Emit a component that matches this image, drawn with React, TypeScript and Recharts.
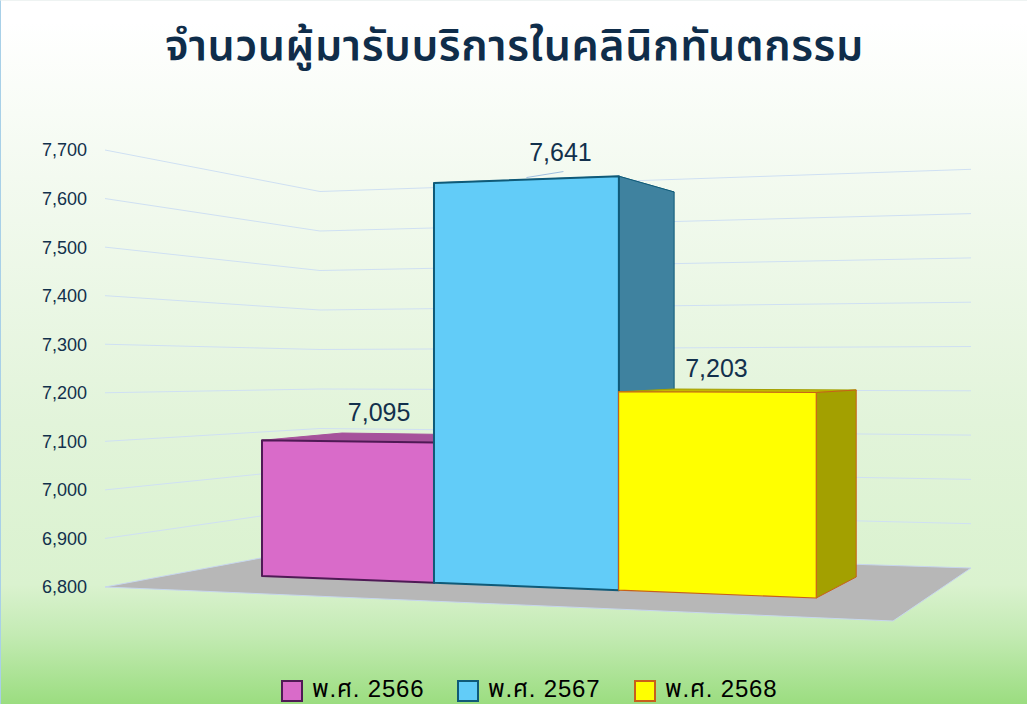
import React from 'react';
import { BarChart, Bar, XAxis, YAxis, CartesianGrid, LabelList, Legend } from 'recharts';

const TITLE = 'จำนวนผู้มารับบริการในคลินิกทันตกรรม';
const categories = ['พ.ศ. 2566', 'พ.ศ. 2567', 'พ.ศ. 2568'];
const values = [7095, 7641, 7203];
const yTicks = [6800, 6900, 7000, 7100, 7200, 7300, 7400, 7500, 7600, 7700];
const rows = categories.map((name, i) => ({ name, value: values[i] }));

const faces = [
  { front: '#d96bc9', side: '#a6529b', top: '#a6529b', line: '#4f1a55', weight: 2, dx: 31, dy: -27 },
  { front: '#62ccf8', side: '#3f829f', top: '#3f829f', line: '#0f5a78', weight: 2, dx: 34, dy: -25 },
  { front: '#ffff00', side: '#a3a000', top: '#c4b800', line: '#c8601a', weight: 1.1, dx: -1, dy: -22 },
];

const W = 1027, H = 704, L = 105, R = 971, T = 150, B = 587;
const LEGEND_H = 24;
const UNIT = (B - T) / 900;
const FONT = '"Liberation Sans","Noto Sans Thai","Noto Sans",Arial,sans-serif';
const NAVY = '#12304c';

const tOf = (px: number) => (px - L) / (R - L);
const frontX = (px: number) => { const t = tOf(px); return 262 + 554 * (0.897 * t + 0.103 * t * t); };
const backX = (px: number) => { const t = tOf(px); return 342 + 514 * (0.906 * t + 0.094 * t * t); };
const frontY = (sx: number, h: number) => {
  const base = 576 + (sx - 262) * 0.0397;
  const s = 0.46 + (sx - 262) * 0.0000903;
  return base - (h / UNIT) * s;
};
const backY = (sx: number, h: number) => {
  const base = 577 - (856 - sx) * 0.0367;
  const s = 0.464 - (856 - sx) * 0.0000776;
  return base - (h / UNIT) * s;
};
const pts = (p: number[][]) => p.map((q) => q.join(',')).join(' ');

function Box3D(props: any) {
  const { x, width, y, index } = props;
  const f = faces[index];
  const h = B - y;
  const fl = frontX(x), fr = frontX(x + width), bl = backX(x), br = backX(x + width);
  const tfl = [fl, frontY(fl, h)], tfr = [fr, frontY(fr, h)];
  const bfl = [fl, frontY(fl, 0)], bfr = [fr, frontY(fr, 0)];
  const tbl = [bl, backY(bl, h)], tbr = [br, backY(br, h)], bbr = [br, backY(br, 0)];
  return (
    <g strokeLinejoin="round">
      <polygon points={pts([tfl, tbl, tbr, tfr])} fill={f.top} stroke={f.side} strokeWidth={1} />
      <polygon points={pts([tfr, tbr, bbr, bfr])} fill={f.side} stroke={f.line} strokeWidth={1} />
      <polygon points={pts([tfl, tfr, bfr, bfl])} fill={f.front} stroke={f.line} strokeWidth={f.weight} />
    </g>
  );
}

function WallLine(props: any) {
  const y = props.y1;
  const h = B - y;
  const cy = 547 - h * (0.395 / UNIT);
  const ry = 568 - h * (0.443 / UNIT);
  const isFloor = Math.abs(h) < 0.5;
  return (
    <g key={props.key}>
      {isFloor && (
        <polygon points={pts([[L, y], [893, 621], [R, ry], [320, cy]])} fill="#b7b7b7" stroke="#c7d6ee" strokeWidth={1} />
      )}
      {!isFloor && (
        <polyline points={pts([[L, y], [320, cy], [R, ry]])} fill="none" stroke="#cfe0f3" strokeWidth={1} />
      )}
    </g>
  );
}

function ValueLabel(props: any) {
  const { x, y, width, index, value } = props;
  const f = faces[index];
  const fl = frontX(x), fr = frontX(x + width);
  const cx = (fl + fr) / 2;
  const top = frontY(cx, B - y);
  return (
    <g>
      {index === 1 && <line x1={cx} y1={top - 2} x2={cx + 37} y2={top - 8} stroke="#9fbfe0" strokeWidth={1} />}
      <text x={cx + f.dx} y={top + f.dy} textAnchor="middle" dominantBaseline="middle" fontFamily={FONT} fontSize={25} fill={NAVY}>
        {Number(value).toLocaleString('en-US')}
      </text>
    </g>
  );
}

function LegendRow() {
  return (
    <div style={{ position: 'relative', height: LEGEND_H }}>
      {categories.map((c, i) => (
        <div key={c} style={{ position: 'absolute', left: 281 + [0, 176, 353][i], top: 0, display: 'flex', alignItems: 'center', height: LEGEND_H }}>
          <span style={{ width: 18, height: 18, background: faces[i].front, border: `2px solid ${faces[i].line}`, display: 'inline-block', marginTop: 3 }} />
          <span style={{ marginLeft: 9, fontFamily: FONT, fontSize: 24, lineHeight: '24px', color: '#000', whiteSpace: 'nowrap', letterSpacing: 0.8 }}>{c}</span>
        </div>
      ))}
    </div>
  );
}

export default function App() {
  return (
    <div style={{
      position: 'absolute', left: 0, top: 0, width: W, height: H, overflow: 'hidden', boxSizing: 'border-box',
      borderLeft: '1px solid #a8d0e8', borderTop: '1px solid #eef3f2',
      background: 'linear-gradient(180deg,#ffffff 3%,#f3faf0 25%,#e2f4da 60%,#daf2cf 83%,#c4ebb4 90%,#9bdd80 100%)',
    }}>
      <div style={{
        position: 'absolute', left: 0, width: W, top: 13, textAlign: 'center', fontFamily: FONT, fontSize: 43,
        fontWeight: 600, color: '#0f2d4a', letterSpacing: 0.6, whiteSpace: 'nowrap',
      }}>{TITLE}</div>
      <div style={{ position: 'absolute', left: -1, top: -1 }}>
        <BarChart width={W} height={H} data={rows} barCategoryGap={0} margin={{ top: T, bottom: H - B - LEGEND_H, left: 0, right: W - R }}>
          <CartesianGrid vertical={false} horizontal={WallLine as any} />
          <XAxis dataKey="name" hide />
          <YAxis
            width={L}
            domain={[6800, 7700]}
            ticks={yTicks}
            axisLine={false}
            tickLine={false}
            tickMargin={12}
            tick={{ fontFamily: FONT, fontSize: 18, fill: NAVY }}
            tickFormatter={(v: number) => v.toLocaleString('en-US')}
          />
          <Legend content={<LegendRow />} verticalAlign="bottom" wrapperStyle={{ left: 0, width: W, top: 677 }} />
          <Bar dataKey="value" isAnimationActive={false} shape={<Box3D />}>
            <LabelList dataKey="value" content={<ValueLabel />} />
          </Bar>
        </BarChart>
      </div>
    </div>
  );
}
